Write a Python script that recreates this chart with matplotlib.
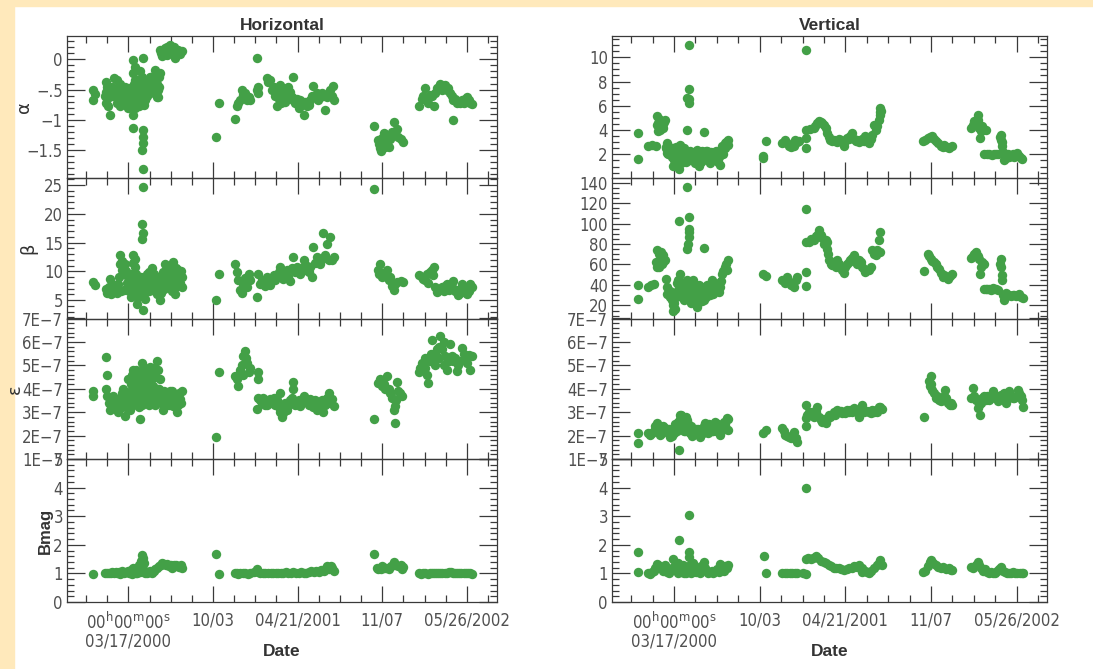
import numpy as np
import matplotlib
matplotlib.use("Agg")
import matplotlib.pyplot as plt
from matplotlib import font_manager
from matplotlib.patches import Rectangle
from matplotlib.ticker import FixedLocator, FixedFormatter, MultipleLocator, NullFormatter
import matplotlib.dates as mdates

# ---------------- data (day offset from 2000-03-17, value) ----------------
BASE_DATE = np.datetime64("2000-03-17")
X_RANGE_DAYS = (-145, 871)
MAJOR_TICK_DAYS = [0, 200, 400, 600, 800]
MINOR_TICK_DAYS = list(range(-100, 851, 50))
MAJOR_TICK_LABELS = ["00$^{\\rm h}$00$^{\\rm m}$00$^{\\rm s}$\n03/17/2000",
                     "10/03", "04/21/2001", "11/07", "05/26/2002"]
COLUMN_TITLES = ["Horizontal", "Vertical"]
ROW_LABELS = ["\u03b1", "\u03b2", "\u03b5", "Bmag"]

H_ALPHA = [(-83,-0.50),(-83,-0.67),(-80,-0.58),(-53,-0.37),(-53,-0.54),(-53,-0.73),(-50,-0.45),(-47,-0.78),(-43,-0.92),(-45,-0.62),
 (-35,-0.31),(-28,-0.34),(-20,-0.40),(-32,-0.51),(-24,-0.56),(-16,-0.67),(-20,-0.78),(-38,-0.45),(-30,-0.62),(-26,-0.72),(-12,-0.5),(-14,-0.58),
 (-8,-0.45),(-4,-0.54),(0,-0.62),(4,-0.67),(-8,-0.73),(2,-0.48),(6,-0.58),(8,-0.75),(-2,-0.8),
 (12,-0.01),(16,-0.12),(12,-0.23),(16,-0.34),(20,-0.45),(12,-0.56),(12,-0.92),(12,-1.14),(20,-0.67),(24,-0.78),(14,-0.4),(18,-0.55),(22,-0.6),(10,-0.7),(16,-0.8),
 (28,-0.40),(32,-0.29),(35,0.02),(37,-0.51),(39,-0.67),(34,-1.17),(35,-1.28),(34,-1.39),(32,-1.50),(35,-1.82),(30,-0.55),(26,-0.65),(33,-0.45),(36,-0.75),(28,-0.2),
 (43,-0.34),(47,-0.45),(51,-0.56),(55,-0.40),(59,-0.29),(63,-0.18),(67,-0.40),(71,-0.62),(75,-0.23),(67,-0.62),(45,-0.6),(50,-0.3),(55,-0.52),(60,-0.45),(64,-0.32),(72,-0.3),(41,-0.5),
 (-10,-0.62),(-6,-0.52),(-1,-0.55),(1,-0.72),(3,-0.6),(5,-0.5),(7,-0.65),(9,-0.55),(11,-0.45),(13,-0.65),(15,-0.5),(17,-0.62),(19,-0.35),(21,-0.52),(23,-0.45),
 (25,-0.55),(27,-0.5),(29,-0.38),(31,-0.62),(38,-0.58),(40,-0.4),(42,-0.62),(44,-0.48),(46,-0.35),(48,-0.52),(52,-0.45),(54,-0.3),(57,-0.48),(62,-0.55),(66,-0.28),
 (69,-0.5),(73,-0.45),(-36,-0.55),(-40,-0.6),(-22,-0.48),(-18,-0.6),(-48,-0.6),(-56,-0.6),
 (75,0.15),(83,0.13),(91,0.21),(99,0.24),(106,0.10),(110,0.02),(118,0.15),(126,0.13),(91,0.07),(80,0.05),(87,0.18),(95,0.12),(102,0.16),(114,0.1),(122,0.08),(78,0.1),(108,0.2),
 (207,-1.29),(214,-0.73),
 (252,-0.98),(256,-0.78),(264,-0.67),(268,-0.51),(272,-0.59),(280,-0.67),(284,-0.62),(288,-0.67),(260,-0.72),(276,-0.55),(303,0.02),(307,-0.45),(307,-0.56),(305,-0.5),
 (327,-0.31),(335,-0.34),(343,-0.45),(351,-0.54),(351,-0.78),(358,-0.42),(366,-0.56),(374,-0.48),(382,-0.54),(390,-0.29),(390,-0.67),(398,-0.65),(402,-0.81),(410,-0.73),
 (414,-0.92),(422,-0.78),(430,-0.67),(437,-0.44),(441,-0.62),(449,-0.67),(457,-0.56),(465,-0.84),(469,-0.62),(477,-0.51),(483,-0.44),(485,-0.67),
 (331,-0.38),(339,-0.5),(347,-0.6),(355,-0.65),(362,-0.5),(370,-0.6),(378,-0.45),(386,-0.62),(394,-0.72),(406,-0.68),(418,-0.7),(426,-0.75),(434,-0.6),(445,-0.55),
 (453,-0.62),(461,-0.6),(473,-0.58),(481,-0.6),(360,-0.72),(370,-0.7),
 (581,-1.10),(591,-1.33),(595,-1.47),(603,-1.22),(611,-1.39),(615,-1.45),(619,-1.31),(627,-1.03),(631,-1.22),(638,-1.28),(650,-1.36),(593,-1.4),(599,-1.3),(607,-1.3),
 (623,-1.2),(635,-1.15),(644,-1.32),(597,-1.52),(607,-1.45),
 (687,-0.78),(693,-0.65),(701,-0.48),(705,-0.67),(713,-0.59),(721,-0.78),(729,-0.48),(737,-0.40),(745,-0.45),(753,-0.51),(760,-0.56),(768,-0.67),(767,-1.00),(776,-0.73),
 (788,-0.67),(800,-0.62),(808,-0.73),(697,-0.6),(709,-0.72),(717,-0.6),(725,-0.55),(733,-0.45),(741,-0.5),(749,-0.42),(756,-0.48),(764,-0.6),(772,-0.65),(780,-0.7),
 (784,-0.72),(792,-0.72),(796,-0.65),(804,-0.68),(812,-0.74)]

H_BETA = [(-83,8.1),(-80,7.6),(-53,7.0),(-50,6.2),(-43,8.7),(-35,6.7),(-40,6.0),(-20,12.8),(-20,11.3),(-16,10.2),(-24,7.8),(-28,6.2),(-8,11.3),(0,9.0),(12,12.8),
 (16,10.8),(12,6.7),(20,8.4),(20,4.4),(32,18.3),(34,16.6),(32,15.7),(34,24.7),(35,3.2),(39,7.8),(47,7.0),(55,10.5),(63,8.4),(75,5.0),(71,6.7),(87,11.3),(91,9.0),
 (99,7.8),(106,11.6),(110,6.1),(118,10.2),(126,9.0),(126,7.3),
 (-30,7.0),(-12,9.5),(-4,8),(4,7.5),(8,9.5),(10,11.5),(14,7.8),(18,9.5),(24,7.2),(26,6.5),(28,8.0),(30,6.0),(36,7.0),(42,6.5),(44,8.2),(50,9.0),(52,7.5),(58,8.0),
 (60,9.5),(66,7.5),(68,6.0),(78,8.5),(82,9.8),(84,7.0),(95,10.5),(102,8.5),(104,6.5),(114,8.2),(122,8.0),(-18,6.5),(-10,6.8),(2,6.5),(6,5.5),(22,5.5),(40,5.2),
 (16,12.2),(-14,11.8),
 (1,7.2),(3,8.5),(5,6.8),(7,8.2),(9,7.0),(11,8.8),(13,9.5),(15,6.5),(17,7.2),(19,6.3),(21,7.5),(23,8.5),(25,7.8),(27,6.8),(29,9.0),(31,7.5),(33,6.5),(37,8.3),
 (38,6.3),(41,7.2),(43,9.5),(46,8.0),(48,6.5),(49,9.8),(53,8.5),(57,6.8),(61,7.5),(65,9.0),(69,8.2),(73,7.2),(77,6.2),(80,9.0),(86,8.0),(90,10.2),(93,7.5),(97,9.0),
 (100,10.0),(108,9.2),(112,10.5),(116,7.5),(120,9.5),(124,10.0),(-26,7.2),(-22,9.0),(-6,10.0),(-2,7.0),(-45,7.2),(-38,7.8),
 (207,5.1),(214,9.6),
 (252,11.3),(256,9.9),(264,6.7),(272,7.8),(284,9.6),(303,5.6),(307,9.6),(311,7.8),(327,9.0),(335,7.6),(351,9.0),(358,10.8),(366,8.7),(382,8.4),(390,12.5),(398,10.8),
 (406,9.6),(414,11.9),(430,10.8),(434,9.0),(437,14.2),(445,12.5),(453,11.3),(461,16.6),(469,14.8),(477,16.0),(481,11.9),
 (260,8.5),(268,6.3),(276,8.8),(280,7.2),(288,8.5),(315,8.5),(319,8.0),(323,7.5),(331,8.3),(339,8.5),(343,9.3),(347,8.5),(355,9.8),(362,9.5),(370,9.2),(374,10.2),
 (378,9.0),(386,10.5),(394,9.8),(402,10.2),(410,10.5),(418,10.2),(422,11.0),(426,9.8),(441,11.5),(449,11.8),(457,12.2),(465,12.8),(473,12.0),(485,12.5),
 (581,24.3),(591,10.2),(595,11.3),(603,9.6),(611,10.2),(619,9.0),(627,6.7),(631,7.8),(643,8.4),(650,8.1),(599,9.0),(607,9.2),(615,8.5),(623,7.5),(635,8.2),(592,9.5),
 (687,9.3),(697,8.7),(705,9.6),(717,10.2),(721,10.8),(725,7.3),(729,6.4),(737,7.0),(753,7.8),(768,8.4),(780,5.8),(788,7.8),(800,6.1),(808,7.8),(812,7.3),
 (693,9.0),(701,8.5),(709,8.0),(713,9.8),(733,6.8),(741,7.2),(745,6.5),(749,7.4),(757,6.8),(761,7.5),(764,7.2),(772,6.5),(776,6.8),(784,6.3),(792,6.5),(796,7.0),
 (804,6.6),(719,9.4)]

# emittance in units of 1E-7
H_EPS = [(-83,3.9),(-83,3.7),(-53,5.35),(-50,4.6),(-53,3.97),(-51,3.7),(-43,3.1),(-32,3.55),(-24,3.0),(-12,3.97),(-8,2.83),(-4,3.4),(0,4.4),(4,3.1),(12,4.8),(12,3.8),
 (20,4.2),(28,2.7),(32,5.1),(35,3.8),(39,3.4),(43,4.55),(51,4.95),(59,4.1),(67,5.2),(71,4.8),(75,4.4),(67,3.55),(83,3.1),(91,3.7),(99,3.9),(106,3.25),(114,3.0),
 (122,3.55),(126,3.9),
 (-46,3.4),(-40,3.3),(-36,3.7),(-28,3.3),(-20,3.6),(-16,3.2),(-14,3.8),(0,3.6),(6,3.9),(8,4.6),(10,3.3),(14,4.1),(16,3.6),(18,4.8),(22,3.5),(24,3.9),(26,3.2),
 (28,4.0),(30,4.4),(36,4.2),(40,3.9),(44,3.6),(47,4.3),(48,3.3),(55,3.7),(60,4.6),(62,3.3),(64,4.0),(72,3.6),(78,3.4),(80,3.8),(86,3.5),(88,3.3),(95,3.4),(102,3.6),
 (110,3.5),(118,3.3),(120,3.8),(124,3.4),
 (2,3.8),(5,3.4),(7,4.2),(9,3.6),(11,4.3),(13,3.4),(15,4.5),(17,4.0),(19,3.7),(21,4.6),(23,3.3),(25,4.4),(27,3.6),(29,3.5),(31,4.7),(33,3.3),(34,4.5),(37,3.6),
 (38,4.9),(41,4.2),(42,3.5),(45,4.0),(46,4.8),(49,3.8),(50,4.5),(52,3.6),(53,4.2),(57,3.9),(58,4.9),(61,3.8),(63,4.5),(65,3.5),(69,4.0),(73,4.0),(76,3.6),(82,3.6),
 (84,3.9),(90,3.4),(93,3.6),(97,3.3),(100,3.5),(104,3.9),(108,3.4),(112,3.3),(116,3.6),(-10,3.5),(-6,3.2),(-2,3.7),(-30,3.4),(-26,3.2),(-18,3.4),
 (207,1.95),(214,4.7),
 (252,4.55),(260,4.1),(264,4.8),(272,5.4),(276,5.6),(280,5.1),(284,4.7),(307,4.7),(307,4.4),(307,3.6),(303,3.15),(327,3.3),(335,3.55),(351,3.5),(358,3.8),(362,2.8),
 (374,3.1),(390,4.3),(390,3.97),(398,3.4),(406,3.25),(414,3.7),(430,3.55),(445,3.1),(453,3.4),(461,3.0),(473,3.8),(481,3.55),(485,3.25),
 (256,4.4),(268,5.0),(270,4.6),(278,5.3),(288,4.9),(311,3.5),(315,3.4),(319,3.6),(323,3.3),(331,3.4),(339,3.4),(343,3.6),(347,3.3),(355,3.2),(366,3.3),(370,3.4),
 (378,3.3),(382,3.5),(386,3.6),(394,3.3),(402,3.5),(410,3.4),(418,3.6),(422,3.5),(426,3.3),(434,3.4),(437,3.2),(441,3.5),(449,3.3),(457,3.5),(465,3.3),(469,3.6),
 (477,3.4),(358,3.0),(366,2.95),
 (581,2.7),(591,4.25),(599,4.1),(611,4.55),(615,3.97),(627,3.1),(631,3.25),(629,2.55),(635,4.3),(638,3.9),(646,3.7),(595,4.4),(603,4.2),(607,4.0),(619,3.8),(623,3.6),
 (633,3.5),(642,3.8),
 (687,4.7),(693,5.1),(705,4.6),(709,4.25),(717,6.1),(721,5.25),(729,5.7),(737,6.25),(741,5.7),(753,4.8),(760,5.9),(768,5.2),(776,4.75),(788,5.75),(796,5.25),
 (804,5.45),(808,4.8),(690,4.9),(697,5.0),(701,4.9),(713,5.2),(715,5.5),(725,5.5),(733,5.3),(735,5.8),(745,5.0),(749,5.4),(757,5.2),(764,5.4),(772,5.3),(780,5.0),
 (784,5.2),(792,5.5),(800,5.1),(812,5.4),(745,6.0),(725,5.0),(700,5.3)]

H_BMAG = [(-83,0.97),(-55,1.0),(-50,1.03),(-46,1.0),(-42,1.02),(-38,1.05),(-34,1.0),(-30,1.04),(-26,1.0),(-22,1.06),(-18,1.02),(-14,1.08),(-10,1.0),(-6,1.05),(-2,1.1),
 (2,1.0),(6,1.12),(10,1.2),(14,1.05),(18,1.0),(22,1.15),(26,1.3),(30,1.45),(33,1.64),(35,1.55),(37,1.35),(40,1.1),(44,1.0),(48,1.05),(52,1.1),(56,1.0),(60,1.08),
 (64,1.15),(68,1.2),(72,1.25),(76,1.3),(80,1.35),(84,1.32),(88,1.3),(92,1.34),(96,1.25),(100,1.3),(104,1.2),(108,1.29),(112,1.3),(116,1.25),(120,1.22),(124,1.3),
 (126,1.2),(20,1.02),(40,1.0),(8,0.98),(28,1.05),(-20,0.98),
 (207,1.69),(214,0.97),
 (252,1.0),(256,1.02),(260,0.98),(264,1.0),(270,1.0),(276,1.01),(282,0.99),(288,1.0),(297,1.05),(303,1.17),(306,1.05),(312,1.0),(318,1.02),(324,1.0),(330,1.0),
 (336,1.02),(342,1.0),(348,1.0),(354,1.02),(360,1.0),(366,1.02),(372,1.05),(378,1.0),(384,1.03),(390,1.05),(396,1.02),(402,1.0),(408,1.05),(414,1.03),(420,1.0),
 (426,1.05),(432,1.08),(438,1.05),(444,1.1),(450,1.05),(456,1.12),(462,1.1),(466,1.2),(470,1.25),(474,1.15),(478,1.25),(482,1.2),(485,1.1),
 (581,1.67),(587,1.2),(591,1.17),(597,1.15),(603,1.18),(609,1.2),(615,1.15),(621,1.25),(627,1.40),(631,1.3),(637,1.25),(643,1.29),(650,1.23),(647,1.15),(600,1.25),
 (687,1.0),(692,0.98),(697,1.0),(702,1.02),(707,0.98),(712,1.0),(717,1.02),(722,1.0),(727,1.0),(732,1.03),(737,1.0),(742,1.0),(747,1.02),(752,1.0),(757,1.05),
 (762,1.05),(767,1.0),(772,1.02),(777,1.0),(782,1.0),(787,1.03),(792,1.0),(797,1.02),(802,1.0),(807,1.0),(812,0.98)]

V_ALPHA = [(-84,3.77),(-84,1.64),(-60,2.68),(-52,2.8),(-42,2.68),(-39,5.14),(-37,3.9),(-29,4.6),(-21,4.86),(-17,2.95),(-17,2.13),(-9,2.0),(-3,1.04),(6,1.86),(12,0.77),
 (14,2.81),(30,4.04),(30,6.64),(34,6.23),(36,7.38),(34,11.0),(37,1.58),(45,2.13),(53,2.4),(59,1.04),(69,3.83),(69,1.86),(76,2.27),(84,1.31),(92,2.13),(100,1.86),
 (108,1.17),(112,2.68),(119,2.95),(127,3.22),
 (-35,4.9),(-31,4.3),(-25,4.5),(-33,4.0),(-13,2.4),(-5,1.8),(0,2.2),(2,1.5),(8,2.4),(10,1.3),(16,2.0),(18,1.6),(20,2.3),(22,1.8),(24,2.5),(26,1.5),(28,2.0),(32,1.7),
 (35,6.6),(40,2.0),(42,1.6),(48,1.8),(50,2.2),(56,1.5),(62,2.0),(64,1.4),(66,2.3),(72,1.7),(80,2.0),(88,1.8),(96,1.5),(104,2.1),(110,2.3),(115,2.6),(122,3.0),
 (-15,2.7),(-7,2.3),
 (-20,2.5),(-11,2.2),(-1,1.5),(4,2.0),(7,1.2),(11,2.0),(13,1.6),(15,2.4),(17,1.3),(19,2.0),(21,1.5),(23,2.1),(25,1.8),(27,2.3),(29,1.4),(31,2.2),(33,1.9),(38,2.3),
 (41,1.8),(44,1.5),(46,2.0),(49,1.3),(52,1.7),(55,2.1),(58,1.8),(61,1.6),(63,2.2),(67,1.5),(70,2.0),(74,2.3),(78,1.6),(82,1.9),(86,2.2),(90,1.6),(94,1.9),(98,2.3),
 (102,1.4),(106,1.8),(114,2.0),(118,2.5),(125,2.8),(-27,4.2),(-23,4.7),(-37,4.6),(-41,4.4),(-19,2.6),(-15,2.0),(-3,2.5),(5,2.6),
 (208,1.86),(215,3.14),(207,1.7),
 (252,2.95),(260,3.22),(268,2.68),(276,2.8),(283,3.22),(291,3.09),(307,10.6),(307,4.04),(307,3.36),(307,2.54),(326,4.18),(338,4.73),(350,4.45),(357,3.77),(365,3.22),
 (377,3.09),(389,3.22),(397,2.68),(404,3.36),(416,3.77),(424,3.09),(436,3.22),(447,3.5),(455,2.95),(463,3.63),(467,4.45),(475,4.32),(482,5.82),(482,5.27),(478,4.86),
 (256,3.0),(264,2.9),(272,2.6),(280,2.7),(287,3.0),(318,4.1),(330,4.3),(334,4.6),(342,4.7),(346,4.6),(354,4.2),(361,3.4),(369,3.1),(373,3.2),(381,3.0),(385,3.3),
 (393,3.0),(400,3.1),(408,3.3),(412,3.5),(420,3.3),(428,3.2),(432,3.0),(440,3.3),(444,3.1),(451,3.2),(459,3.3),(471,4.0),(480,5.5),(484,5.6),
 (582,3.09),(592,3.36),(603,3.5),(611,3.09),(623,2.68),(631,2.8),(643,2.54),(650,2.68),(587,3.2),(597,3.4),(607,3.3),(617,2.9),(627,2.6),(637,2.6),
 (693,4.18),(701,4.73),(709,5.27),(715,3.36),(720,4.32),(728,4.04),(724,2.0),(736,2.0),(748,2.0),(764,3.63),(764,3.22),(767,2.68),(771,1.58),(779,2.0),(791,2.0),
 (802,2.13),(810,1.72),(697,4.4),(705,4.5),(711,4.8),(713,4.2),(717,3.9),(730,2.0),(742,1.95),(752,2.0),(756,2.05),(762,3.4),(766,3.0),(769,2.2),(775,1.7),(783,1.8),
 (787,1.9),(795,1.8),(799,1.9),(806,1.9),(812,1.6)]

V_BETA = [(-84,39.6),(-84,26.5),(-60,37.9),(-48,41.2),(-39,73.8),(-33,64.0),(-39,57.5),(-25,68.9),(-19,46.1),(-17,31.4),(-9,28.2),(-3,20.0),(-2,15.1),(12,102.2),
 (14,51.0),(18,41.2),(30,135.8),(36,106.4),(36,95.0),(34,86.9),(30,75.4),(22,28.2),(37,24.9),(45,44.5),(53,18.4),(59,34.7),(69,76.4),(69,24.9),(76,39.6),(88,44.5),
 (92,31.4),(108,37.9),(112,51.0),(119,57.5),(127,64.0),
 (-54,40),(-36,70),(-30,66),(-28,60),(-22,64),(-35,58),(-13,30),(-6,25),(2,17),(8,35),(10,45),(16,38),(20,33),(24,35),(26,30),(28,40),(32,80),(34,92),(40,30),(42,38),
 (48,27),(50,33),(56,22),(62,30),(64,38),(66,28),(72,32),(80,36),(84,30),(96,34),(100,40),(104,33),(110,44),(115,54),(122,60),(124,55),
 (-16,38),(-10,34),(-4,30),(0,22),(4,28),(6,42),(12,45),(15,32),(19,28),(21,38),(23,25),(25,42),(27,35),(29,27),(31,45),(33,30),(35,38),(38,35),(39,22),(41,26),
 (43,32),(44,40),(47,35),(49,29),(51,24),(52,38),(55,30),(57,26),(58,40),(60,28),(63,35),(65,24),(67,33),(70,30),(73,38),(75,28),(78,33),(82,40),(86,35),(90,38),
 (94,42),(98,36),(102,34),(106,42),(-42,62),(-26,62),(-30,72),
 (208,51.0),(215,48.4),
 (252,45.1),(264,47.7),(272,39.6),(280,37.9),(287,47.7),(307,114.6),(307,82.0),(309,52.6),(307,38.6),(323,83.6),(338,93.4),(342,88.5),(357,82.0),(358,75.4),(362,64.0),
 (370,59.1),(381,64.0),(389,57.5),(397,51.6),(408,62.4),(420,68.9),(432,64.0),(440,57.5),(447,52.6),(455,54.2),(463,73.8),(471,68.9),(478,83.6),(482,91.7),(475,73.8),
 (256,44),(260,42),(268,43),(276,42),(284,45),(315,82),(319,85),(327,84),(331,88),(335,90),(346,86),(350,80),(354,84),(360,70),(366,60),(374,62),(378,58),(385,60),
 (393,55),(400,58),(404,60),(412,64),(416,66),(424,62),(428,60),(436,62),(444,56),(451,55),(459,58),(467,70),(480,72),
 (584,53.3),(593,70.6),(599,65.7),(611,60.8),(619,55.9),(627,47.7),(639,46.1),(650,51.0),(596,68),(603,63),(607,62),(615,58),(623,52),(631,50),(635,48),(645,49),
 (693,66.6),(705,72.2),(713,65.7),(715,51.0),(724,60.8),(724,36.3),(736,36.3),(748,36.3),(764,65.7),(764,57.5),(767,49.4),(771,24.9),(779,29.8),(795,29.8),(810,28.2),
 (697,68),(701,70),(709,68),(717,58),(720,62),(728,36),(732,36),(740,35),(744,37),(752,36),(756,35),(762,60),(766,45),(769,30),(775,32),(783,30),(787,29),(791,30),
 (799,29),(803,30),(806,31),(814,27)]

V_EPS = [(-84,2.1),(-84,1.67),(-56,2.03),(-41,2.53),(-33,2.03),(-21,2.31),(-9,1.96),(6,2.46),(12,1.39),(18,2.81),(30,2.67),(37,2.1),(49,2.24),(61,1.96),(73,2.53),
 (84,2.39),(96,2.6),(108,2.03),(123,2.74),(127,2.24),
 (-60,2.1),(-52,2.1),(-48,2.2),(-44,2.4),(-37,2.2),(-29,2.1),(-25,2.4),(-17,2.2),(-13,2.3),(-5,2.0),(-1,2.1),(2,2.3),(9,2.6),(14,2.7),(16,2.3),(20,2.6),(22,2.2),
 (24,2.5),(26,2.3),(28,2.8),(32,2.4),(34,2.2),(40,2.4),(42,2.0),(45,2.3),(53,2.1),(57,2.3),(65,2.2),(69,2.3),(77,2.2),(80,2.4),(88,2.2),(92,2.4),(100,2.3),(104,2.2),
 (112,2.4),(116,2.6),(120,2.5),(125,2.7),
 (3,2.5),(7,2.2),(11,2.5),(13,2.9),(15,2.6),(17,2.9),(19,2.4),(21,2.7),(23,2.4),(25,2.2),(27,2.6),(29,2.3),(31,2.6),(33,2.5),(35,2.3),(38,2.2),(43,2.2),(47,2.1),
 (51,2.3),(55,2.2),(59,2.1),(63,2.3),(67,2.1),(71,2.4),(75,2.3),(79,2.1),(82,2.5),(86,2.3),(90,2.2),(94,2.5),(98,2.2),(102,2.5),(106,2.3),(110,2.2),(114,2.5),
 (118,2.4),(122,2.3),
 (208,2.1),(215,2.24),
 (252,2.31),(260,2.03),(272,1.89),(280,2.17),(287,1.74),(307,3.31),(307,2.74),(307,2.39),(319,2.96),(334,3.24),(342,2.67),(354,2.53),(365,2.81),(381,3.1),(393,2.96),
 (404,3.1),(420,3.17),(432,2.81),(440,3.31),(447,3.03),(459,2.96),(471,3.1),(482,3.24),
 (256,2.2),(264,2.0),(268,1.95),(276,2.0),(284,1.9),(311,2.9),(315,3.0),(323,3.0),(327,2.8),(331,3.0),(338,2.8),(346,2.6),(350,2.7),(358,2.7),(362,2.9),(369,2.9),
 (373,3.0),(377,2.9),(385,3.0),(389,3.05),(397,3.0),(400,2.95),(408,3.0),(412,3.1),(416,3.0),(424,3.05),(428,3.0),(436,3.1),(444,3.0),(451,3.05),(455,3.0),(463,3.1),
 (467,3.0),(475,3.0),(478,3.2),(485,3.15),
 (584,2.81),(595,4.31),(599,4.53),(603,3.96),(615,3.67),(623,3.46),(633,3.96),(639,3.39),(650,3.31),(597,4.1),(601,4.2),(607,3.8),(611,3.6),(619,3.5),(627,3.5),
 (631,3.7),(636,3.6),(644,3.3),(647,3.4),
 (693,3.6),(697,4.03),(709,3.17),(715,2.89),(724,3.67),(736,3.53),(744,3.89),(756,3.46),(764,3.74),(775,3.39),(783,3.89),(795,3.6),(803,3.96),(810,3.67),(814,3.24),
 (701,3.7),(705,3.5),(712,3.3),(718,3.4),(720,3.6),(728,3.5),(732,3.7),(740,3.6),(748,3.7),(752,3.6),(760,3.7),(768,3.6),(771,3.8),(779,3.6),(787,3.7),(791,3.6),
 (799,3.7),(806,3.8),(812,3.5)]

V_BMAG = [(-84,1.75),(-84,1.05),(-60,1.0),(-56,0.99),(-52,1.05),(-48,1.1),(-44,1.2),(-41,1.34),(-37,1.3),(-33,1.23),(-29,1.2),(-25,1.1),(-21,1.3),(-17,1.05),(-13,1.0),
 (-9,1.1),(-5,1.2),(-2,1.52),(2,1.3),(6,1.1),(10,1.0),(12,2.18),(14,1.2),(18,1.05),(22,1.0),(26,1.1),(30,1.2),(34,3.04),(34,1.75),(35,1.58),(37,1.3),(40,1.0),
 (44,1.1),(48,1.2),(52,1.05),(56,1.15),(60,1.0),(64,1.1),(69,1.4),(72,1.2),(76,1.1),(80,1.0),(84,1.05),(88,1.1),(92,1.0),(96,1.1),(100,1.15),(104,1.05),(108,1.34),
 (112,1.2),(116,1.1),(120,1.25),(124,1.2),(127,1.29),(20,1.3),(45,1.35),(8,1.35),(28,1.0),(62,1.25),
 (209,1.61),(215,1.02),
 (252,1.0),(258,1.0),(264,1.02),(270,1.0),(276,1.0),(282,1.01),(288,1.0),(300,1.0),(307,3.97),(307,1.52),(307,0.99),(313,1.55),(319,1.5),(325,1.55),(331,1.6),
 (337,1.55),(343,1.45),(349,1.4),(355,1.35),(361,1.3),(367,1.25),(373,1.2),(379,1.2),(385,1.18),(391,1.15),(397,1.12),(403,1.15),(409,1.2),(415,1.2),(421,1.25),
 (427,1.22),(433,1.3),(439,1.2),(445,1.1),(451,1.05),(455,1.02),(461,1.1),(467,1.2),(473,1.3),(478,1.35),(482,1.46),(485,1.3),(440,1.05),
 (582,1.05),(587,1.1),(592,1.25),(597,1.4),(599,1.46),(605,1.35),(611,1.28),(617,1.23),(623,1.2),(629,1.22),(635,1.15),(641,1.18),(647,1.12),(650,1.11),
 (693,1.23),(699,1.2),(705,1.3),(709,1.4),(713,1.3),(718,1.2),(722,1.1),(726,1.15),(730,1.05),(735,1.0),(740,1.05),(745,1.0),(750,1.02),(755,1.1),(760,1.15),
 (764,1.23),(768,1.1),(772,1.05),(777,1.0),(782,1.02),(787,1.0),(792,1.05),(797,1.0),(802,1.02),(807,1.0),(812,1.0),(814,1.03)]

# y-axis settings per panel: (limits, major ticks, labels, minor step, value scale)
EPS_TICKS = [1e-7, 2e-7, 3e-7, 4e-7, 5e-7, 6e-7, 7e-7]
EPS_LABELS = ["%dE\u22127" % i for i in range(1, 8)]
H_AXES = [
    ((-1.955, 0.386), [-1.5, -1.0, -0.5, 0.0], ["\u22121.5", "\u22121", "\u2212.5", "0"], 0.1, 1.0),
    ((1.8, 26.3), [5, 10, 15, 20, 25], ["5", "10", "15", "20", "25"], 1.0, 1.0),
    ((1e-7, 7e-7), EPS_TICKS, EPS_LABELS, 2e-8, 1e-7),
    ((0, 5), [0, 1, 2, 3, 4, 5], ["0", "1", "2", "3", "4", "5"], 0.2, 1.0),
]
V_AXES = [
    ((0.1, 11.75), [2, 4, 6, 8, 10], ["2", "4", "6", "8", "10"], 0.5, 1.0),
    ((7.3, 144.9), [20, 40, 60, 80, 100, 120, 140], ["20", "40", "60", "80", "100", "120", "140"], 5.0, 1.0),
    ((1e-7, 7e-7), EPS_TICKS, EPS_LABELS, 2e-8, 1e-7),
    ((0, 5), [0, 1, 2, 3, 4, 5], ["0", "1", "2", "3", "4", "5"], 0.2, 1.0),
]
# right edge of each row label, in axes-fraction of the left column
YLABEL_X = [-0.079, -0.070, -0.101, -0.034]

# ---------------- style ----------------
avail = {f.name for f in font_manager.fontManager.ttflist}
if "Liberation Sans Narrow" in avail:
    TICK_FONT = dict(family="Liberation Sans Narrow")
else:
    TICK_FONT = dict(family="DejaVu Sans", stretch="condensed")
BOLD_FAMILY = "Liberation Sans" if "Liberation Sans" in avail else "DejaVu Sans"

plt.rcParams["mathtext.fontset"] = "custom"
plt.rcParams["mathtext.rm"] = TICK_FONT["family"]
plt.rcParams["mathtext.it"] = TICK_FONT["family"]

GREEN = "#43a047"
BEIGE = "#ffe9bb"
AX_COL = "#3a3a3a"
TXT_COL = "#505050"
W, H = 1093, 669

fig = plt.figure(figsize=(W / 100, H / 100), dpi=100)
fig.patches.append(Rectangle((0, 1 - 6 / H), 1, 6 / H, transform=fig.transFigure,
                             color=BEIGE, zorder=-10))
fig.patches.append(Rectangle((0, 0), 14 / W, 1, transform=fig.transFigure,
                             color=BEIGE, zorder=-10))

ROWS_PX = [36, 177.5, 318.5, 459, 602]
COLS_PX = [(67, 497), (612, 1047)]

def to_dates(days):
    return BASE_DATE + np.array(days, dtype=int).astype("timedelta64[D]")

xlim = (mdates.date2num(to_dates([X_RANGE_DAYS[0]])[0]), mdates.date2num(to_dates([X_RANGE_DAYS[1]])[0]))
major_x = [mdates.date2num(d) for d in to_dates(MAJOR_TICK_DAYS)]
minor_x = [mdates.date2num(d) for d in to_dates(MINOR_TICK_DAYS)]

columns = [(H_AXES, [H_ALPHA, H_BETA, H_EPS, H_BMAG]),
           (V_AXES, [V_ALPHA, V_BETA, V_EPS, V_BMAG])]

for ci, (axes_cfg, series) in enumerate(columns):
    x0, x1 = COLS_PX[ci]
    for ri in range(4):
        y0, y1 = ROWS_PX[ri], ROWS_PX[ri + 1]
        ax = fig.add_axes([x0 / W, 1 - y1 / H, (x1 - x0) / W, (y1 - y0) / H])
        lims, ticks, labels, minor, scale = axes_cfg[ri]
        pts = np.array(series[ri], dtype=float)
        ax.scatter(to_dates(pts[:, 0]), pts[:, 1] * scale, s=46, color=GREEN,
                   linewidths=0, clip_on=False, zorder=3)
        ax.set_xlim(*xlim)
        ax.set_ylim(*lims)
        ax.xaxis.set_major_locator(FixedLocator(major_x))
        ax.xaxis.set_minor_locator(FixedLocator(minor_x))
        if ri == 3:
            ax.xaxis.set_major_formatter(FixedFormatter(MAJOR_TICK_LABELS))
        else:
            ax.xaxis.set_major_formatter(NullFormatter())
        ax.xaxis.set_minor_formatter(NullFormatter())
        ax.yaxis.set_major_locator(FixedLocator(ticks))
        ax.yaxis.set_major_formatter(FixedFormatter(labels))
        ax.yaxis.set_minor_locator(MultipleLocator(minor))
        ax.tick_params(which="both", direction="in", top=True, right=True,
                       color=AX_COL, width=0.9, labelcolor=TXT_COL, labelsize=12)
        ax.tick_params(axis="x", which="major", length=11.5, pad=7)
        ax.tick_params(axis="x", which="minor", length=5)
        ax.tick_params(axis="y", which="major", length=13, pad=3)
        ax.tick_params(axis="y", which="minor", length=5)
        for lab in ax.get_xticklabels() + ax.get_yticklabels():
            lab.set_fontproperties(font_manager.FontProperties(size=12, **TICK_FONT))
            lab.set_color(TXT_COL)
        for lab in ax.get_xticklabels():
            lab.set_linespacing(1.0)
        for sp in ax.spines.values():
            sp.set_color(AX_COL)
            sp.set_linewidth(0.9)
        ax.set_facecolor("none")
        if ci == 0:
            if ri == 3:
                ax.set_ylabel(ROW_LABELS[ri], fontsize=12, fontweight="bold",
                              family=BOLD_FAMILY, color="#333333")
            else:
                ax.set_ylabel(ROW_LABELS[ri], fontsize=13, color="#333333",
                              family=TICK_FONT["family"])
            ax.yaxis.set_label_coords(YLABEL_X[ri], 0.5)
        if ri == 0:
            ax.set_title(COLUMN_TITLES[ci], fontsize=12.5, fontweight="bold",
                         family=BOLD_FAMILY, color="#333333", pad=4)
    fig.text((x0 + x1) / 2 / W, 1 - 652 / H, "Date", ha="center", va="center",
             fontsize=12.5, fontweight="bold", family=BOLD_FAMILY, color="#333333")

fig.savefig("out.png", dpi=100, facecolor="white")
